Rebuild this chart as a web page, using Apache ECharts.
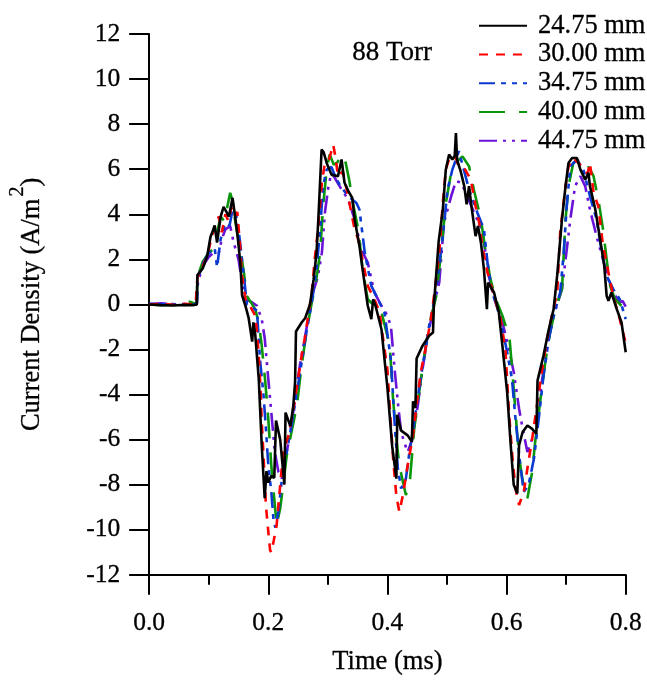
<!DOCTYPE html>
<html>
<head>
<meta charset="utf-8">
<script src="https://cdn.jsdelivr.net/npm/echarts@6/dist/echarts.min.js"></script>
<style>
  html, body { margin: 0; padding: 0; background: #fff; }
  #chart { width: 647px; height: 681px; }
</style>
</head>
<body>
<div id="chart"></div>
<script>
// Current density waveforms at 88 Torr for five probe distances
const seriesNames = ['24.75 mm', '30.00 mm', '34.75 mm', '40.00 mm', '44.75 mm'];
const xTicks = ['0.0', '0.2', '0.4', '0.6', '0.8'];
const yTicks = ['-12', '-10', '-8', '-6', '-4', '-2', '0', '2', '4', '6', '8', '10', '12'];

// 24.75 mm
const t24 = [0, 0.02, 0.04, 0.06, 0.075, 0.08, 0.081, 0.09, 0.0975, 0.103, 0.106, 0.11, 0.114, 0.12, 0.125, 0.13, 0.134, 0.14, 0.145, 0.149, 0.153, 0.156, 0.162, 0.167, 0.173, 0.175, 0.178, 0.184, 0.189, 0.194, 0.197, 0.2, 0.205, 0.21, 0.213, 0.22, 0.227, 0.229, 0.237, 0.242, 0.245, 0.2465, 0.256, 0.262, 0.27, 0.276, 0.281, 0.284, 0.2895, 0.293, 0.298, 0.306, 0.317, 0.323, 0.328, 0.335, 0.341, 0.345, 0.353, 0.359, 0.367, 0.373, 0.376, 0.38, 0.39, 0.4, 0.408, 0.415, 0.4165, 0.423, 0.434, 0.441, 0.443, 0.447, 0.449, 0.459, 0.47, 0.4765, 0.478, 0.481, 0.486, 0.493, 0.498, 0.5035, 0.509, 0.513, 0.515, 0.517, 0.523, 0.529, 0.533, 0.537, 0.541, 0.548, 0.552, 0.557, 0.562, 0.567, 0.569, 0.579, 0.587, 0.593, 0.601, 0.607, 0.612, 0.618, 0.621, 0.627, 0.635, 0.643, 0.65, 0.652, 0.662, 0.671, 0.679, 0.685, 0.693, 0.699, 0.704, 0.71, 0.718, 0.724, 0.732, 0.7375, 0.74, 0.749, 0.757, 0.764, 0.768, 0.771, 0.776, 0.785, 0.793, 0.8];
const v24 = [0, -0.03, -0.05, -0.02, -0.03, 0, 1.3, 1.6, 2.15, 3.0, 3.2, 3.5, 2.75, 3.9, 4.33, 4.1, 3.9, 4.73, 3.77, 2.9, 1.86, 0.4, -0.1, -0.6, -1.65, -0.8, -1.3, -3.3, -6.25, -8.6, -7.4, -7.9, -7.6, -7.7, -5.15, -6.0, -8.0, -4.8, -5.4, -4.5, -3.45, -1.2, -0.8, -0.6, 0, 1.1, 2.3, 3.77, 6.87, 6.75, 6.28, 5.76, 5.69, 6.43, 5.4, 5.0, 4.73, 3.77, 2.6, 1.42, -0.06, -0.65, 0.23, -0.06, -1.1, -3.7, -6.3, -7.73, -4.9, -5.6, -5.81, -6.1, -4.3, -4.6, -2.4, -1.83, -1.39, -1.25, 0, 1.0, 2.8, 4.21, 5.98, 6.65, 6.43, 6.6, 7.6, 6.4, 5.9, 5.25, 4.44, 5.25, 4.36, 3.03, 3.48, 2.74, 1.56, -0.21, 0.97, 0.53, -0.35, -1.83, -3.9, -6.25, -8.0, -8.39, -6.25, -5.66, -5.37, -5.52, -5.74, -3.38, -2.27, -1.09, -0.21, 1.3, 3.77, 5.25, 6.28, 6.5, 6.5, 5.98, 5.54, 5.84, 5.25, 4.21, 2.89, 1.71, 0.38, 0.16, 0.53, -0.21, -0.8, -2.12];

// 30.00 mm
const t30 = [0, 0.02, 0.04, 0.06, 0.078, 0.08, 0.081, 0.09, 0.098, 0.105, 0.11, 0.117, 0.122, 0.128, 0.133, 0.138, 0.143, 0.148, 0.152, 0.156, 0.162, 0.17, 0.178, 0.181, 0.184, 0.187, 0.189, 0.192, 0.196, 0.199, 0.203, 0.205, 0.209, 0.214, 0.217, 0.225, 0.234, 0.239, 0.245, 0.25, 0.256, 0.262, 0.267, 0.273, 0.278, 0.284, 0.29, 0.295, 0.302, 0.309, 0.313, 0.317, 0.325, 0.334, 0.345, 0.351, 0.359, 0.367, 0.378, 0.387, 0.39, 0.4, 0.405, 0.41, 0.415, 0.42, 0.426, 0.434, 0.443, 0.451, 0.456, 0.465, 0.473, 0.479, 0.487, 0.493, 0.498, 0.504, 0.51, 0.515, 0.52, 0.53, 0.54, 0.548, 0.554, 0.559, 0.568, 0.579, 0.59, 0.598, 0.604, 0.61, 0.615, 0.621, 0.629, 0.635, 0.643, 0.651, 0.66, 0.668, 0.676, 0.685, 0.69, 0.699, 0.704, 0.712, 0.72, 0.73, 0.736, 0.74, 0.746, 0.754, 0.762, 0.771, 0.779, 0.79, 0.799];
const v30 = [0, 0.02, -0.02, 0.03, 0, 0.05, 1.2, 1.7, 2.2, 3.0, 3.4, 3.9, 3.2, 4.0, 3.7, 4.3, 3.9, 4.1, 2.8, 1.27, 0.2, -0.1, -0.5, -1.2, -2.27, -3.75, -5.22, -6.7, -8.9, -9.8, -10.9, -11.0, -10.5, -9.8, -8.9, -6.55, -5.8, -5.07, -4.19, -3.3, -2.27, -1.39, -0.5, 0.53, 2.0, 3.48, 5.4, 6.28, 6.43, 7.09, 6.5, 5.69, 5.9, 4.8, 3.33, 2.89, 1.86, 0.82, 0.23, -0.35, -1.0, -2.9, -5.0, -7.0, -8.5, -9.2, -8.46, -7.14, -5.8, -4.04, -3.0, -1.83, -0.65, 0.53, 2.3, 4.5, 5.98, 6.5, 6.4, 6.5, 6.1, 6.0, 5.54, 4.36, 3.63, 2.59, 1.42, 0.38, -0.65, -1.98, -4.78, -6.84, -8.17, -8.9, -8.3, -7.28, -5.96, -4.48, -2.86, -1.53, -0.5, 0.53, 3.18, 5.25, 6.13, 6.5, 6.3, 6.0, 5.8, 6.28, 4.95, 4.36, 2.59, 1.42, 0.38, -0.65, -1.61];

// 34.75 mm
const t34 = [0, 0.02, 0.04, 0.06, 0.08, 0.081, 0.09, 0.098, 0.105, 0.11, 0.114, 0.12, 0.128, 0.135, 0.14, 0.147, 0.152, 0.159, 0.164, 0.172, 0.181, 0.186, 0.192, 0.196, 0.2, 0.205, 0.209, 0.212, 0.217, 0.223, 0.231, 0.239, 0.248, 0.256, 0.264, 0.273, 0.281, 0.287, 0.292, 0.298, 0.306, 0.312, 0.32, 0.334, 0.348, 0.353, 0.362, 0.373, 0.384, 0.395, 0.406, 0.412, 0.4175, 0.423, 0.431, 0.437, 0.445, 0.454, 0.462, 0.47, 0.479, 0.484, 0.493, 0.501, 0.509, 0.52, 0.528, 0.537, 0.551, 0.562, 0.568, 0.576, 0.585, 0.593, 0.601, 0.609, 0.615, 0.623, 0.629, 0.637, 0.646, 0.654, 0.662, 0.671, 0.679, 0.69, 0.696, 0.701, 0.707, 0.718, 0.729, 0.74, 0.751, 0.76, 0.768, 0.779, 0.79, 0.8];
const v34 = [0.03, 0, 0.02, -0.02, 0.02, 1.1, 1.8, 2.2, 2.4, 2.5, 1.65, 2.9, 3.6, 3.5, 4.2, 3.85, 2.9, 1.27, 0, -0.1, -0.28, -2.42, -4.04, -5.5, -7.14, -8.3, -9.64, -9.9, -9.2, -7.7, -6.55, -5.37, -3.9, -2.57, -1.24, 0.09, 1.56, 3.33, 5.25, 5.98, 6.1, 5.7, 5.3, 4.8, 4.5, 4.21, 2.3, 0.82, 0.23, -0.35, -2.5, -5.22, -7.28, -8.17, -7.73, -6.55, -5.22, -3.6, -2.27, -0.95, 0.23, 1.12, 3.03, 5.1, 5.98, 6.8, 6.0, 5.1, 4.07, 3.33, 1.86, 0.53, -0.21, -1.09, -2.12, -3.3, -5.07, -7.14, -8.31, -8.0, -6.84, -5.07, -3.16, -1.53, -0.5, 0.53, 2.3, 4.36, 6.13, 6.43, 5.98, 4.8, 3.77, 2.3, 1.27, 0.68, 0.23, -0.65];

// 40.00 mm
const t40 = [0, 0.02, 0.04, 0.06, 0.068, 0.075, 0.08, 0.081, 0.09, 0.1, 0.108, 0.115, 0.12, 0.126, 0.131, 0.136, 0.14, 0.145, 0.152, 0.159, 0.164, 0.178, 0.184, 0.189, 0.195, 0.2, 0.205, 0.209, 0.214, 0.22, 0.226, 0.231, 0.239, 0.248, 0.256, 0.264, 0.273, 0.28, 0.287, 0.292, 0.298, 0.303, 0.31, 0.316, 0.323, 0.33, 0.336, 0.342, 0.351, 0.359, 0.367, 0.378, 0.39, 0.404, 0.409, 0.415, 0.42, 0.426, 0.431, 0.438, 0.445, 0.454, 0.462, 0.47, 0.482, 0.49, 0.498, 0.507, 0.515, 0.526, 0.537, 0.545, 0.557, 0.565, 0.573, 0.582, 0.593, 0.605, 0.612, 0.618, 0.623, 0.63, 0.635, 0.643, 0.648, 0.657, 0.665, 0.673, 0.682, 0.693, 0.699, 0.704, 0.712, 0.72, 0.732, 0.738, 0.746, 0.754, 0.762, 0.768, 0.774, 0.782, 0.793, 0.8];
const v40 = [0, -0.04, 0, 0.04, 0.12, 0.05, 0.05, 1.2, 1.9, 2.3, 2.45, 3.3, 3.9, 3.7, 4.3, 4.95, 4.6, 3.6, 2.6, 1.42, 0.38, -0.21, -0.8, -1.83, -3.45, -5.07, -7.14, -8.31, -9.8, -9.05, -7.8, -6.7, -5.66, -4.48, -2.71, -1.24, 0.09, 1.0, 2.3, 4.36, 5.98, 6.65, 6.2, 6.3, 6.65, 6.28, 5.5, 4.5, 3.33, 1.42, 0.23, -0.06, -0.35, -1.83, -4.04, -5.96, -7.14, -7.87, -8.46, -7.73, -5.51, -3.75, -2.27, -0.95, 0.38, 2.3, 4.5, 5.84, 6.3, 6.57, 6.13, 5.1, 3.77, 2.3, 1.12, 0.23, -0.5, -1.5, -3.75, -5.81, -7.14, -8.31, -8.6, -7.43, -6.1, -4.19, -2.57, -1.24, -0.21, 0.68, 3.77, 5.25, 6.28, 6.4, 5.98, 6.1, 5.69, 4.66, 3.33, 2.0, 0.82, 0.23, -0.06, -0.3];

// 44.75 mm
const t44 = [0, 0.02, 0.04, 0.06, 0.08, 0.082, 0.09, 0.1, 0.108, 0.117, 0.122, 0.128, 0.136, 0.142, 0.15, 0.156, 0.161, 0.172, 0.181, 0.189, 0.194, 0.2, 0.206, 0.211, 0.217, 0.223, 0.231, 0.237, 0.245, 0.253, 0.264, 0.275, 0.283, 0.29, 0.295, 0.301, 0.306, 0.312, 0.323, 0.334, 0.345, 0.356, 0.367, 0.378, 0.39, 0.4, 0.406, 0.412, 0.418, 0.423, 0.428, 0.434, 0.442, 0.451, 0.459, 0.468, 0.479, 0.487, 0.495, 0.507, 0.515, 0.524, 0.534, 0.548, 0.559, 0.57, 0.582, 0.593, 0.604, 0.612, 0.621, 0.626, 0.635, 0.643, 0.651, 0.66, 0.668, 0.679, 0.693, 0.7, 0.707, 0.715, 0.724, 0.732, 0.74, 0.751, 0.762, 0.771, 0.779, 0.79, 0.795, 0.8];
const v44 = [0.02, 0.05, 0, 0.02, 0.02, 1.0, 1.7, 2.1, 2.3, 2.3, 2.9, 3.33, 3.48, 2.74, 2.0, 1.0, 0.23, 0.1, -0.06, -0.65, -1.5, -3.3, -5.07, -6.55, -7.43, -7.73, -6.55, -5.66, -4.19, -2.71, -1.09, 0.53, 1.2, 2.3, 4.07, 5.25, 5.84, 5.6, 5.1, 4.66, 3.77, 2.45, 1.86, 0.53, -0.06, -0.5, -1.0, -2.86, -4.48, -5.66, -6.1, -6.55, -5.96, -4.48, -2.86, -1.39, 0.09, 0.97, 3.63, 4.8, 5.47, 5.4, 4.8, 3.92, 3.33, 1.27, 0.09, -0.8, -1.98, -3.0, -4.63, -5.37, -6.55, -5.96, -5.07, -3.3, -1.83, -0.5, 0.68, 2.2, 3.77, 5.25, 5.69, 5.25, 4.21, 3.03, 2.0, 1.12, 0.53, 0.09, 0.15, -0.1];

const times = [t24, t30, t34, t40, t44];
const values = [v24, v30, v34, v40, v44];
const colors = ['#000000', '#ff0000', '#0a3ad0', '#0a960a', '#6a12d8'];
const dashes = ['solid', [9, 8], [16, 6, 5, 6, 5, 6], [26, 14], [18, 6, 3, 6, 3, 6]];

const FONT = '"Liberation Serif", "Times New Roman", serif';
const TXT = { fontFamily: FONT, color: '#000', textBorderColor: '#000', textBorderWidth: 0.3 };

function pairs(ts, vs) {
  return ts.map((t, i) => [t, vs[i]]);
}

const chart = echarts.init(document.getElementById('chart'), null, { renderer: 'canvas' });

const series = seriesNames.map((name, i) => ({
  name: name,
  type: 'line',
  data: pairs(times[i], values[i]),
  symbol: 'none',
  smooth: false,
  z: 10 - i,
  lineStyle: { color: colors[i], width: 2.6, type: dashes[i] },
  itemStyle: { color: colors[i] }
}));

chart.setOption({
  backgroundColor: '#ffffff',
  animation: false,
  grid: { left: 146.7, right: 21.3, top: 34, bottom: 104.3, containLabel: false },
  legend: {
    orient: 'vertical',
    left: 473,
    top: 7,
    itemWidth: 48,
    itemHeight: 14,
    itemGap: 1.5,
    data: seriesNames,
    itemStyle: { opacity: 0 },
    textStyle: Object.assign({}, TXT, { fontSize: 26.5, lineHeight: 25, padding: [0, 0, 0, 6] })
  },
  graphic: [{
    type: 'text',
    left: 352,
    top: 39,
    style: { text: '88 Torr', font: '27px ' + FONT, fill: '#000', stroke: '#000', lineWidth: 0.3 }
  }],
  xAxis: {
    type: 'value',
    min: 0,
    max: 0.8,
    interval: 0.2,
    name: 'Time (ms)',
    nameLocation: 'middle',
    nameGap: 74,
    nameTextStyle: Object.assign({}, TXT, { fontSize: 26.5 }),
    axisLine: { onZero: false, lineStyle: { color: '#000', width: 2 } },
    axisTick: { inside: false, length: 20, lineStyle: { color: '#000', width: 2 } },
    minorTick: { show: true, splitNumber: 2, length: 10, lineStyle: { color: '#000', width: 2 } },
    splitLine: { show: false },
    axisLabel: Object.assign({}, TXT, {
      margin: 35,
      fontSize: 25.5,
      formatter: v => xTicks[Math.round(v / 0.2)]
    })
  },
  yAxis: {
    type: 'value',
    min: -12,
    max: 12,
    interval: 2,
    name: '{n|Current Density (A/m}{s|2}{n|)}',
    nameLocation: 'middle',
    nameGap: 93,
    nameTextStyle: {
      rich: {
        n: Object.assign({}, TXT, { fontSize: 26.5 }),
        s: Object.assign({}, TXT, { fontSize: 20, padding: [0, 0, 28, 2] })
      }
    },
    axisLine: { lineStyle: { color: '#000', width: 2 } },
    axisTick: { inside: false, length: 20, lineStyle: { color: '#000', width: 2 } },
    splitLine: { show: false },
    axisLabel: Object.assign({}, TXT, {
      margin: 29,
      fontSize: 25.5,
      formatter: v => yTicks[Math.round((v + 12) / 2)]
    })
  },
  series: series
});
</script>
</body>
</html>
